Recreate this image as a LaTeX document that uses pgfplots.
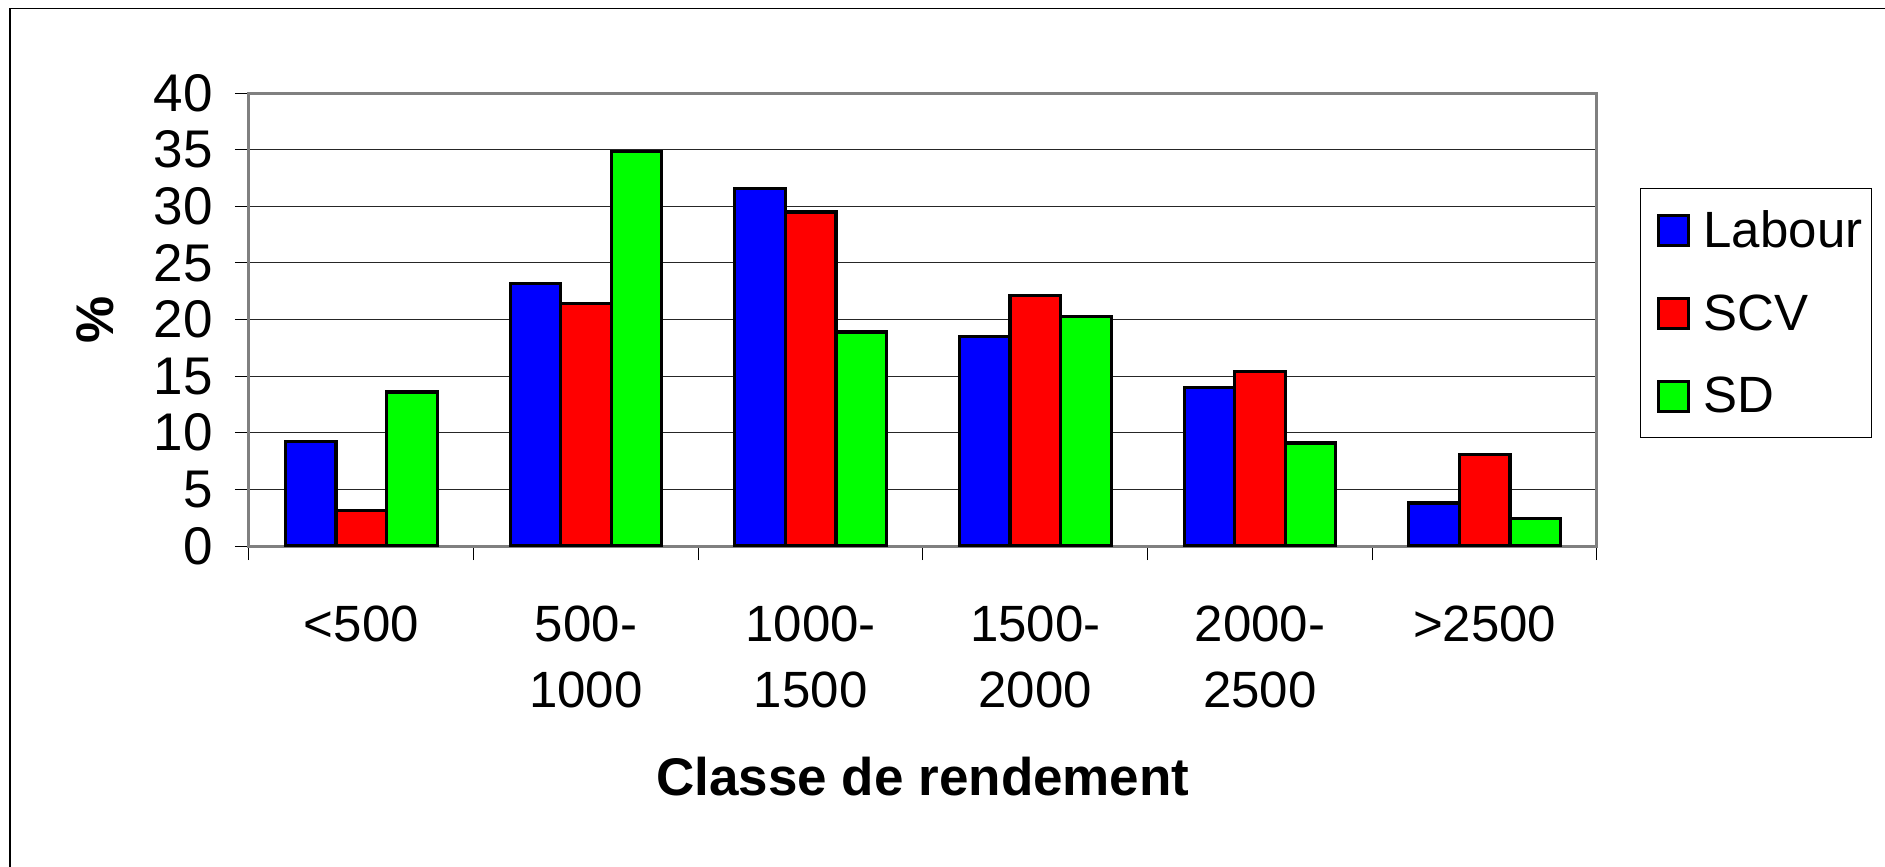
\documentclass[border=0pt]{standalone}
\usepackage{pgfplots}
\pgfplotsset{compat=1.18}
\usepackage{fontspec}
\setmainfont{Liberation Sans}
\definecolor{cblue}{RGB}{0,0,255}
\definecolor{cred}{RGB}{255,0,0}
\definecolor{cgreen}{RGB}{0,255,0}
\definecolor{frame}{RGB}{128,128,128}
\begin{document}
\begin{tikzpicture}
\useasboundingbox (-124.5pt,-160.5pt) rectangle (818pt,273pt);
\draw[black, line width=0.6pt] (-119.5pt,-400pt) rectangle (1100pt,268.8pt);
\begin{axis}[
  at={(0pt,0pt)}, anchor=south west,
  scale only axis, width=674pt, height=226.5pt,
  ybar=0pt, bar width=0.225,
  xmin=-0.5, xmax=5.5, ymin=0, ymax=40,
  ytick={0,5,...,40},
  xtick={0,...,5},
  xticklabels={{<500},{500-\\1000},{1000-\\1500},{1500-\\2000},{2000-\\2500},{>2500}},
  minor xtick={-0.5,0.5,...,5.5},
  tick align=outside,
  major tick length=7pt, minor tick length=7pt,
  major x tick style={draw=none},
  minor x tick style={black, line width=0.5pt},
  major y tick style={black, line width=0.5pt},
  xtick pos=bottom, ytick pos=left,
  ymajorgrids, major grid style={black!85, line width=0.5pt},
  axis line style={frame, line width=1.5pt},
  /pgf/number format/assume math mode=true,
  xticklabel style={font=\fontsize{25.5}{33}\selectfont, align=center, anchor=north, inner sep=0pt, yshift=-22.5pt},
  yticklabel style={font=\fontsize{26.5}{30}\selectfont, inner sep=0pt, xshift=-11pt},
  xlabel={Classe de rendement},
  xlabel style={font=\fontsize{26.5}{30}\selectfont\bfseries, at={(axis description cs:0.5,0)}, anchor=north, inner sep=0pt, yshift=-105.5pt},
  ylabel={\%},
  ylabel style={font=\fontsize{26.5}{30}\selectfont\bfseries, at={(axis description cs:-0.1139,0.5)}, anchor=center, inner sep=0pt},
  every axis plot/.append style={draw=black, line width=1.6pt},
  legend image code/.code={\path[draw=none, fill=none] (0pt,0pt) -- (21.6pt,0pt);\draw[#1, line width=1.4pt] (6.6pt,-7.5pt) rectangle (21.6pt,7.5pt);},
  legend cell align=left,
  legend style={at={(rel axis cs:1,1)}, anchor=north west, xshift=21.5pt, yshift=-47.5pt,
    draw=black, line width=0.6pt, font=\fontsize{25.5}{30}\selectfont,
    inner xsep=2.4pt, inner ysep=9pt, row sep=18pt,
    /tikz/every even column/.append style={column sep=2pt},
    /tikz/every odd column/.append style={column sep=4.8pt}},
]
\addplot[fill=cblue] coordinates {(0,9.2) (1,23.2) (2,31.6) (3,18.5) (4,14.0) (5,3.8)};
\addplot[fill=cred] coordinates {(0,3.1) (1,21.4) (2,29.5) (3,22.1) (4,15.4) (5,8.1)};
\addplot[fill=cgreen] coordinates {(0,13.6) (1,34.8) (2,18.9) (3,20.3) (4,9.1) (5,2.4)};
\legend{Labour,SCV,SD}
\end{axis}
\end{tikzpicture}
\end{document}
